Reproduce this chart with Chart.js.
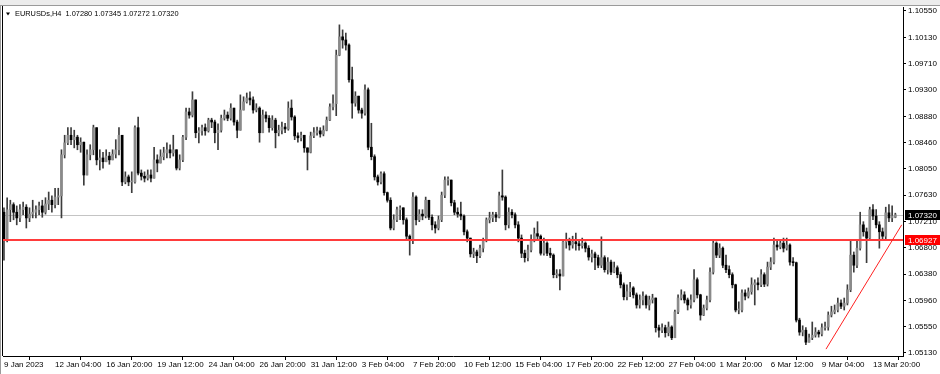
<!DOCTYPE html>
<html>
<head>
<meta charset="utf-8">
<title>EURUSDs,H4</title>
<script src="https://cdn.jsdelivr.net/npm/chart.js@4.4.1/dist/chart.umd.min.js"></script>
<style>
  html, body { margin: 0; padding: 0; background: #fff; }
  canvas { display: block; }
</style>
</head>
<body>
<canvas id="chart" width="940" height="374"></canvas>
<script>
// EURUSDs H4 candles, 9 Jan 2023 12:00 .. 14 Mar 2023
const symbolTitle = "EURUSDs,H4  1.07280 1.07345 1.07272 1.07320";

const opens = [
  1.0736,1.0692,1.0740,1.0748,1.0736,1.0727,1.0740,1.0744,1.0727,1.0733,
  1.0736,1.0740,1.0746,1.0736,1.0749,1.0755,1.0748,1.0760,1.0762,1.0827,
  1.0846,1.0858,1.0851,1.0855,1.0843,1.0847,1.0795,1.0827,1.0835,1.0870,
  1.0819,1.0822,1.0816,1.0825,1.0819,1.0828,1.0835,1.0858,1.0784,1.0792,
  1.0784,1.0784,1.0870,1.0798,1.0793,1.0790,1.0795,1.0790,1.0819,1.0814,
  1.0824,1.0830,1.0835,1.0830,1.0835,1.0806,1.0819,1.0855,1.0895,1.0890,
  1.0914,1.0862,1.0865,1.0870,1.0865,1.0882,1.0879,1.0862,1.0866,1.0885,
  1.0890,1.0885,1.0901,1.0879,1.0866,1.0898,1.0911,1.0917,1.0914,1.0898,
  1.0901,1.0862,1.0890,1.0885,1.0870,1.0882,1.0862,1.0866,1.0871,1.0868,
  1.0901,1.0887,1.0857,1.0854,1.0858,1.0838,1.0831,1.0857,1.0862,1.0865,
  1.0860,1.0866,1.0882,1.0903,1.0908,1.0985,1.1014,1.1009,1.1001,1.0946,
  1.0909,1.0920,1.0898,1.0893,1.0930,1.0839,1.0824,1.0792,1.0784,1.0797,
  1.0767,1.0755,1.0711,1.0724,1.0740,1.0743,1.0724,1.0698,1.0692,1.0760,
  1.0724,1.0733,1.0730,1.0755,1.0728,1.0716,1.0711,1.0724,1.0763,1.0787,
  1.0787,1.0751,1.0736,1.0733,1.0730,1.0705,1.0695,1.0670,1.0673,1.0667,
  1.0679,1.0692,1.0724,1.0727,1.0732,1.0728,1.0762,1.0760,1.0716,1.0736,
  1.0732,1.0716,1.0695,1.0671,1.0664,1.0676,1.0692,1.0702,1.0698,1.0671,
  1.0687,1.0671,1.0668,1.0637,1.0638,1.0635,1.0689,1.0692,1.0684,1.0689,
  1.0686,1.0683,1.0687,1.0679,1.0665,1.0670,1.0664,1.0652,1.0664,1.0645,
  1.0657,1.0641,1.0648,1.0637,1.0621,1.0602,1.0610,1.0616,1.0605,1.0589,
  1.0597,1.0603,1.0589,1.0597,1.0600,1.0553,1.0549,1.0553,1.0545,1.0554,
  1.0537,1.0578,1.0600,1.0605,1.0597,1.0589,1.0597,1.0629,1.0605,1.0573,
  1.0584,1.0597,1.0641,1.0687,1.0668,1.0679,1.0652,1.0645,1.0637,1.0621,
  1.0581,1.0581,1.0608,1.0603,1.0610,1.0621,1.0624,1.0621,1.0637,1.0622,
  1.0649,1.0657,1.0684,1.0681,1.0687,1.0679,1.0684,1.0657,1.0656,1.0565,
  1.0546,1.0549,1.0530,1.0537,1.0541,1.0546,1.0543,1.0553,1.0554,1.0573,
  1.0578,1.0581,1.0592,1.0587,1.0592,1.0613,1.0668,1.0652,1.0679,1.0716,
  1.0705,1.0695,1.0740,1.0730,1.0716,1.0705,1.0698,1.0735,1.0727,1.07280
];

const highs = [
  1.0743,1.0759,1.0755,1.0751,1.0746,1.0748,1.0752,1.0748,1.0743,1.0755,
  1.0746,1.0752,1.0755,1.0759,1.0768,1.0762,1.0774,1.0774,1.0835,1.0858,
  1.0870,1.0870,1.0866,1.0858,1.0854,1.0843,1.0835,1.0843,1.0874,1.0866,
  1.0835,1.0831,1.0835,1.0831,1.0835,1.0851,1.0870,1.0858,1.0800,1.0795,
  1.0800,1.0873,1.0887,1.0803,1.0800,1.0803,1.0803,1.0839,1.0827,1.0835,
  1.0839,1.0846,1.0843,1.0858,1.0835,1.0827,1.0858,1.0901,1.0901,1.0927,
  1.0914,1.0870,1.0874,1.0876,1.0885,1.0885,1.0882,1.0876,1.0890,1.0898,
  1.0895,1.0908,1.0901,1.0882,1.0922,1.0919,1.0925,1.0927,1.0919,1.0908,
  1.0903,1.0898,1.0895,1.0889,1.0889,1.0885,1.0874,1.0879,1.0877,1.0911,
  1.0914,1.0889,1.0862,1.0863,1.0857,1.0838,1.0863,1.0870,1.0871,1.0870,
  1.0873,1.0887,1.0908,1.0922,1.0993,1.1033,1.1025,1.1020,1.1003,1.0966,
  1.0927,1.0914,1.0901,1.0938,1.0933,1.0877,1.0827,1.0795,1.0800,1.0800,
  1.0768,1.0759,1.0732,1.0744,1.0746,1.0743,1.0727,1.0700,1.0767,1.0762,
  1.0740,1.0740,1.0760,1.0755,1.0732,1.0721,1.0730,1.0768,1.0792,1.0792,
  1.0787,1.0755,1.0743,1.0752,1.0732,1.0708,1.0695,1.0679,1.0676,1.0684,
  1.0695,1.0727,1.0736,1.0736,1.0736,1.0768,1.0803,1.0762,1.0743,1.0740,
  1.0735,1.0721,1.0700,1.0676,1.0684,1.0700,1.0711,1.0721,1.0700,1.0695,
  1.0689,1.0679,1.0670,1.0645,1.0645,1.0692,1.0703,1.0695,1.0698,1.0703,
  1.0692,1.0695,1.0689,1.0683,1.0676,1.0673,1.0668,1.0697,1.0667,1.0664,
  1.0660,1.0657,1.0651,1.0641,1.0624,1.0621,1.0625,1.0618,1.0608,1.0605,
  1.0610,1.0605,1.0603,1.0606,1.0600,1.0557,1.0559,1.0557,1.0562,1.0556,
  1.0581,1.0605,1.0613,1.0610,1.0600,1.0605,1.0645,1.0632,1.0606,1.0589,
  1.0603,1.0648,1.0692,1.0689,1.0686,1.0681,1.0668,1.0651,1.0640,1.0622,
  1.0594,1.0613,1.0613,1.0616,1.0632,1.0629,1.0632,1.0645,1.0640,1.0657,
  1.0664,1.0695,1.0692,1.0692,1.0695,1.0695,1.0686,1.0664,1.0657,1.0568,
  1.0556,1.0553,1.0543,1.0562,1.0553,1.0549,1.0559,1.0562,1.0578,1.0587,
  1.0589,1.0600,1.0597,1.0600,1.0621,1.0692,1.0673,1.0692,1.0736,1.0721,
  1.0711,1.0744,1.0748,1.0740,1.0721,1.0711,1.0744,1.0748,1.0746,1.07345
];

const lows = [
  1.0660,1.0689,1.0721,1.0724,1.0716,1.0721,1.0732,1.0711,1.0721,1.0727,
  1.0727,1.0732,1.0728,1.0733,1.0740,1.0736,1.0743,1.0748,1.0727,1.0822,
  1.0843,1.0843,1.0838,1.0835,1.0831,1.0779,1.0795,1.0819,1.0827,1.0811,
  1.0803,1.0806,1.0816,1.0812,1.0819,1.0822,1.0827,1.0778,1.0781,1.0778,
  1.0767,1.0782,1.0795,1.0787,1.0784,1.0787,1.0784,1.0790,1.0800,1.0814,
  1.0819,1.0822,1.0822,1.0825,1.0803,1.0803,1.0816,1.0851,1.0885,1.0887,
  1.0854,1.0846,1.0858,1.0858,1.0863,1.0870,1.0846,1.0835,1.0863,1.0882,
  1.0881,1.0882,1.0874,1.0854,1.0866,1.0898,1.0909,1.0906,1.0893,1.0895,
  1.0847,1.0862,1.0879,1.0863,1.0866,1.0838,1.0857,1.0860,1.0862,1.0866,
  1.0882,1.0851,1.0847,1.0849,1.0831,1.0803,1.0830,1.0854,1.0858,1.0855,
  1.0857,1.0865,1.0881,1.0898,1.0889,1.0984,1.0996,1.0993,1.0942,1.0885,
  1.0904,1.0893,1.0885,1.0890,1.0835,1.0819,1.0787,1.0779,1.0781,1.0763,
  1.0752,1.0708,1.0708,1.0721,1.0724,1.0717,1.0692,1.0668,1.0686,1.0716,
  1.0721,1.0724,1.0727,1.0724,1.0708,1.0703,1.0708,1.0721,1.0759,1.0779,
  1.0746,1.0732,1.0728,1.0724,1.0700,1.0689,1.0665,1.0664,1.0656,1.0664,
  1.0673,1.0689,1.0719,1.0721,1.0721,1.0727,1.0755,1.0708,1.0711,1.0727,
  1.0711,1.0689,1.0664,1.0657,1.0659,1.0673,1.0689,1.0692,1.0668,1.0668,
  1.0667,1.0664,1.0632,1.0632,1.0613,1.0635,1.0679,1.0676,1.0679,1.0676,
  1.0676,1.0679,1.0673,1.0660,1.0657,1.0645,1.0648,1.0648,1.0641,1.0638,
  1.0637,1.0640,1.0632,1.0616,1.0597,1.0597,1.0602,1.0600,1.0584,1.0584,
  1.0589,1.0584,1.0581,1.0592,1.0546,1.0538,1.0545,1.0538,1.0540,1.0534,
  1.0537,1.0575,1.0597,1.0592,1.0581,1.0584,1.0594,1.0600,1.0565,1.0572,
  1.0581,1.0594,1.0638,1.0664,1.0664,1.0648,1.0640,1.0632,1.0616,1.0578,
  1.0575,1.0578,1.0597,1.0600,1.0606,1.0589,1.0613,1.0618,1.0618,1.0619,
  1.0645,1.0654,1.0676,1.0678,1.0673,1.0676,1.0652,1.0651,1.0562,1.0541,
  1.0540,1.0526,1.0530,1.0534,1.0538,1.0538,1.0540,1.0549,1.0549,1.0570,
  1.0575,1.0578,1.0583,1.0581,1.0589,1.0610,1.0641,1.0648,1.0676,1.0698,
  1.0656,1.0692,1.0724,1.0711,1.0679,1.0692,1.0692,1.0721,1.0721,1.07272
];

const closes = [
  1.0692,1.0740,1.0748,1.0736,1.0727,1.0740,1.0744,1.0727,1.0733,1.0736,
  1.0740,1.0746,1.0736,1.0749,1.0755,1.0748,1.0760,1.0762,1.0827,1.0846,
  1.0858,1.0851,1.0855,1.0843,1.0847,1.0795,1.0827,1.0835,1.0870,1.0819,
  1.0822,1.0816,1.0825,1.0819,1.0828,1.0835,1.0858,1.0784,1.0792,1.0784,
  1.0784,1.0870,1.0798,1.0793,1.0790,1.0795,1.0790,1.0819,1.0814,1.0824,
  1.0830,1.0835,1.0830,1.0835,1.0806,1.0819,1.0855,1.0895,1.0890,1.0914,
  1.0862,1.0865,1.0870,1.0865,1.0882,1.0879,1.0862,1.0866,1.0885,1.0890,
  1.0885,1.0901,1.0879,1.0866,1.0898,1.0911,1.0917,1.0914,1.0898,1.0901,
  1.0862,1.0890,1.0885,1.0870,1.0882,1.0862,1.0866,1.0871,1.0868,1.0901,
  1.0887,1.0857,1.0854,1.0858,1.0838,1.0831,1.0857,1.0862,1.0865,1.0860,
  1.0866,1.0882,1.0903,1.0908,1.0985,1.1014,1.1009,1.1001,1.0946,1.0909,
  1.0920,1.0898,1.0893,1.0930,1.0839,1.0824,1.0792,1.0784,1.0797,1.0767,
  1.0755,1.0711,1.0724,1.0740,1.0743,1.0724,1.0698,1.0692,1.0760,1.0724,
  1.0733,1.0730,1.0755,1.0728,1.0716,1.0711,1.0724,1.0763,1.0787,1.0787,
  1.0751,1.0736,1.0733,1.0730,1.0705,1.0695,1.0670,1.0673,1.0667,1.0679,
  1.0692,1.0724,1.0727,1.0732,1.0728,1.0762,1.0760,1.0716,1.0736,1.0732,
  1.0716,1.0695,1.0671,1.0664,1.0676,1.0692,1.0702,1.0698,1.0671,1.0687,
  1.0671,1.0668,1.0637,1.0638,1.0635,1.0689,1.0692,1.0684,1.0689,1.0686,
  1.0683,1.0687,1.0679,1.0665,1.0670,1.0664,1.0652,1.0664,1.0645,1.0657,
  1.0641,1.0648,1.0637,1.0621,1.0602,1.0610,1.0616,1.0605,1.0589,1.0597,
  1.0603,1.0589,1.0597,1.0600,1.0553,1.0549,1.0553,1.0545,1.0554,1.0537,
  1.0578,1.0600,1.0605,1.0597,1.0589,1.0597,1.0629,1.0605,1.0573,1.0584,
  1.0597,1.0641,1.0687,1.0668,1.0679,1.0652,1.0645,1.0637,1.0621,1.0581,
  1.0581,1.0608,1.0603,1.0610,1.0621,1.0624,1.0621,1.0637,1.0622,1.0649,
  1.0657,1.0684,1.0681,1.0687,1.0679,1.0684,1.0657,1.0656,1.0565,1.0546,
  1.0549,1.0530,1.0537,1.0541,1.0546,1.0543,1.0553,1.0554,1.0573,1.0578,
  1.0581,1.0592,1.0587,1.0592,1.0613,1.0668,1.0652,1.0679,1.0716,1.0705,
  1.0695,1.0740,1.0730,1.0716,1.0705,1.0698,1.0735,1.0727,1.0730,1.07320
];

// time axis: label every 16 bars
const xTickBars = [0,16,32,48,64,80,96,112,128,144,160,176,192,208,224,240,256,272];
const xTickLabels = [
  "9 Jan 2023","12 Jan 04:00","16 Jan 20:00","19 Jan 12:00","24 Jan 04:00",
  "26 Jan 20:00","31 Jan 12:00","3 Feb 04:00","7 Feb 20:00","10 Feb 12:00",
  "15 Feb 04:00","17 Feb 20:00","22 Feb 12:00","27 Feb 04:00","1 Mar 20:00",
  "6 Mar 12:00","9 Mar 04:00","13 Mar 20:00"
];
const priceTicks = [1.10550,1.10130,1.09710,1.09300,1.08880,1.08460,1.08050,
  1.07630,1.07210,1.06800,1.06380,1.05960,1.05550,1.05130];

const lastPrice = 1.07320;
const levelPrice = 1.06927;
const trendLine = [[257.3, 1.0519], [281.0, 1.0716]];   // [bar, price]

const bullColor = "#8a8a8a";
const bearColor = "#000000";
const wickColor = "#3c3c3c";

Chart.defaults.font.family = '"Liberation Sans", Arial, sans-serif';
Chart.defaults.font.size = 8;
Chart.defaults.color = "#000";

const overlay = {
  id: "overlay",
  beforeDatasetsDraw(chart) {
    const { ctx, chartArea: a, scales: { y } } = chart;
    const py = Math.round(y.getPixelForValue(lastPrice)) + 0.5;
    ctx.save();
    ctx.strokeStyle = "#c4c4c4";
    ctx.lineWidth = 1;
    ctx.beginPath(); ctx.moveTo(a.left, py); ctx.lineTo(a.right, py); ctx.stroke();
    ctx.restore();
  },
  afterDatasetsDraw(chart) {
    const { ctx, chartArea: a, scales: { x, y } } = chart;
    ctx.save();
    ctx.beginPath(); ctx.rect(a.left, a.top, a.right - a.left, a.bottom - a.top); ctx.clip();
    const ry = Math.round(y.getPixelForValue(levelPrice));
    ctx.strokeStyle = "#ff3b3b";
    ctx.lineWidth = 2;
    ctx.beginPath(); ctx.moveTo(a.left, ry); ctx.lineTo(a.right, ry); ctx.stroke();
    ctx.strokeStyle = "#ff2020";
    ctx.lineWidth = 1;
    ctx.beginPath();
    ctx.moveTo(x.getPixelForValue(trendLine[0][0]), y.getPixelForValue(trendLine[0][1]));
    ctx.lineTo(x.getPixelForValue(trendLine[1][0]), y.getPixelForValue(trendLine[1][1]));
    ctx.stroke();
    ctx.restore();
  },
  afterDraw(chart) {
    const { ctx, chartArea: a, scales: { y } } = chart;
    ctx.save();
    // window strip and frame
    ctx.fillStyle = "#ececec";
    ctx.fillRect(0, 0, chart.width, 5);
    ctx.strokeStyle = "#9a9a9a";
    ctx.lineWidth = 1;
    ctx.beginPath(); ctx.moveTo(0, 5.5); ctx.lineTo(chart.width, 5.5); ctx.stroke();
    ctx.beginPath(); ctx.moveTo(0.5, 5); ctx.lineTo(0.5, chart.height); ctx.stroke();
    ctx.strokeStyle = "#000";
    ctx.beginPath(); ctx.moveTo(2.5, 6); ctx.lineTo(2.5, a.bottom); ctx.stroke();

    // price boxes on the right scale
    const boxes = [[lastPrice, "#000000"], [levelPrice, "#ff0000"]];
    ctx.font = '8px "Liberation Sans", Arial, sans-serif';
    ctx.textBaseline = "middle";
    ctx.textAlign = "left";
    boxes.forEach(([v, col]) => {
      const py = Math.round(y.getPixelForValue(v));
      ctx.fillStyle = col;
      ctx.fillRect(a.right + 2, py - 5, 35, 10);
      ctx.fillStyle = "#fff";
      ctx.fillText(v.toFixed(5), a.right + 5, py + 0.5);
    });

    // symbol title
    ctx.fillStyle = "#000";
    ctx.beginPath(); ctx.moveTo(6, 12.5); ctx.lineTo(10, 12.5); ctx.lineTo(8, 15.5); ctx.closePath(); ctx.fill();
    ctx.font = '7.4px "Liberation Sans", Arial, sans-serif';
    ctx.fillText(symbolTitle, 15, 14);
    ctx.restore();
  }
};

const bodies = opens.map((o, i) => ({ x: i, y: [o, closes[i]] }));
const wicks = opens.map((o, i) => ({
  x: i,
  y: [Math.min(lows[i], o, closes[i]), Math.max(highs[i], o, closes[i])]
}));
const bodyColors = opens.map((o, i) => closes[i] >= o ? bullColor : bearColor);

new Chart(document.getElementById("chart"), {
  type: "bar",
  data: {
    datasets: [
      {
        label: "body",
        data: bodies,
        backgroundColor: bodyColors,
        barThickness: 2,
        minBarLength: 1,
        grouped: false,
        order: 1
      },
      {
        label: "wick",
        data: wicks,
        backgroundColor: wickColor,
        barThickness: 1,
        grouped: false,
        order: 2
      }
    ]
  },
  options: {
    responsive: false,
    animation: false,
    events: [],
    layout: { padding: { left: 3, top: 7, right: 0, bottom: 0 } },
    plugins: {
      legend: { display: false },
      tooltip: { enabled: false }
    },
    scales: {
      x: {
        type: "linear",
        min: -0.3,
        max: 281.4,
        offset: false,
        grid: { drawOnChartArea: false, drawTicks: true, tickLength: 4, color: "#000" },
        border: { display: true, color: "#000" },
        ticks: {
          autoSkip: false,
          maxRotation: 0,
          align: "start",
          padding: 0,
          callback: (v) => {
            const k = xTickBars.indexOf(v);
            return k >= 0 ? xTickLabels[k] : "";
          }
        },
        afterBuildTicks: (s) => { s.ticks = xTickBars.map(v => ({ value: v })); },
        afterFit: (s) => { s.height = 18; }
      },
      y: {
        position: "right",
        min: 1.05081,
        max: 1.10613,
        grid: { drawOnChartArea: false, drawTicks: true, tickLength: 3, color: "#000" },
        border: { display: true, color: "#000" },
        ticks: {
          padding: 2,
          callback: (v) => Number(v).toFixed(5)
        },
        afterBuildTicks: (s) => { s.ticks = priceTicks.map(v => ({ value: v })); },
        afterFit: (s) => { s.width = 37; }
      }
    }
  },
  plugins: [overlay]
});
</script>
</body>
</html>
